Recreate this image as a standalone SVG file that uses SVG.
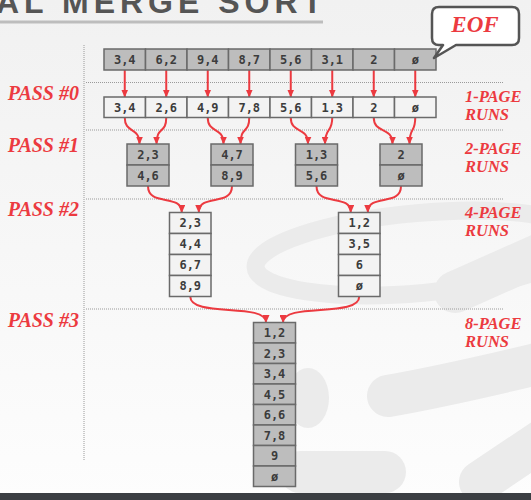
<svg xmlns="http://www.w3.org/2000/svg" width="531" height="500" viewBox="0 0 531 500">
<defs>
<linearGradient id="bg" x1="0" y1="0" x2="0" y2="1">
<stop offset="0" stop-color="#f1f1f1"/>
<stop offset="1" stop-color="#fdfdfd"/>
</linearGradient>
<marker id="ah" markerUnits="userSpaceOnUse" markerWidth="8" markerHeight="7" refX="7.5" refY="3.5" orient="auto">
<path d="M0,0 L8,3.5 L0,7 Z" fill="#ec3a40"/>
</marker>
<style>
.g{fill:#bdbdbd;stroke:#6a6a6a;stroke-width:1.5}
.l{fill:#f3f3f3;stroke:#6a6a6a;stroke-width:1.5}
.t{font-family:"DejaVu Sans Mono",monospace;font-weight:bold;font-size:12px;fill:#3c3c3c;text-anchor:middle}
.lab{font-family:"Liberation Serif",serif;font-weight:bold;font-style:italic;fill:#ec3a40}
.pass{font-size:20px;text-anchor:end}
.runs{font-size:16.5px}
.dot{stroke:#9a9a9a;stroke-width:1;stroke-dasharray:1 1;fill:none}
.a{fill:none;stroke:#ec3a40;stroke-width:2;marker-end:url(#ah)}
.wm{fill:none;stroke:#ebebeb;stroke-linecap:round}
</style>
</defs>
<rect x="0" y="0" width="531" height="500" fill="url(#bg)"/>
<g id="watermark">
<ellipse cx="420" cy="253" rx="165" ry="40" transform="rotate(-5 420 253)" class="wm" stroke-width="18"/>
<path d="M455,292 Q500,272 545,252" class="wm" stroke-width="42"/>
<path d="M388,396 Q450,385 545,362" class="wm" stroke-width="42"/>
<path d="M480,482 L550,435" class="wm" stroke-width="42"/>
<path d="M300,472 L385,472" class="wm" stroke-width="42"/>
<ellipse cx="308" cy="398" rx="21" ry="30" fill="#ebebeb"/>
</g>
<text x="-4" y="13" font-family="Liberation Sans,sans-serif" font-weight="bold" font-size="32" letter-spacing="5" fill="#555">AL MERGE SORT</text>
<line x1="0" y1="22" x2="323" y2="22" stroke="#bdbdbd" stroke-width="3"/>
<rect x="0" y="493" width="531" height="7" fill="#3b3e42"/>
<g id="guides">
<line x1="84" y1="45" x2="84" y2="460" class="dot"/>
<line x1="86" y1="82.5" x2="503" y2="82.5" class="dot"/>
<line x1="86" y1="130" x2="503" y2="130" class="dot"/>
<line x1="86" y1="199" x2="503" y2="199" class="dot"/>
<line x1="86" y1="309" x2="503" y2="309" class="dot"/>
</g>
<g id="connectors">
<path class="a" d="M124.75,70 V97"/>
<path class="a" d="M166.25,70 V97"/>
<path class="a" d="M207.75,70 V97"/>
<path class="a" d="M249.25,70 V97"/>
<path class="a" d="M290.75,70 V97"/>
<path class="a" d="M332.25,70 V97"/>
<path class="a" d="M373.75,70 V97"/>
<path class="a" d="M415.25,70 V97"/>
<path class="a" d="M124.75,117.5 C124.75,134 139.5,126 139.5,144"/>
<path class="a" d="M166.25,117.5 C166.25,134 156.5,126 156.5,144"/>
<path class="a" d="M207.75,117.5 C207.75,134 223.5,126 223.5,144"/>
<path class="a" d="M249.25,117.5 C249.25,134 240.5,126 240.5,144"/>
<path class="a" d="M290.75,117.5 C290.75,134 308,126 308,144"/>
<path class="a" d="M332.25,117.5 C332.25,134 325,126 325,144"/>
<path class="a" d="M373.75,117.5 C373.75,134 392.5,126 392.5,144"/>
<path class="a" d="M415.25,117.5 C415.25,134 409.5,126 409.5,144"/>
<path class="a" d="M148,186 C148,207 181.75,193 181.75,212.5"/>
<path class="a" d="M232,186 C232,207 198.75,193 198.75,212.5"/>
<path class="a" d="M316.5,186 C316.5,207 350.75,193 350.75,212.5"/>
<path class="a" d="M401,186 C401,207 367.75,193 367.75,212.5"/>
<path class="a" d="M190.25,296.5 C190.25,318 266,302 266,322.5"/>
<path class="a" d="M359.25,296.5 C359.25,318 283,302 283,322.5"/>
</g>
<g id="input-file">
<rect class="g" x="104" y="49" width="41.5" height="21"/><text class="t" x="124.75" y="64">3,4</text>
<rect class="g" x="145.5" y="49" width="41.5" height="21"/><text class="t" x="166.25" y="64">6,2</text>
<rect class="g" x="187" y="49" width="41.5" height="21"/><text class="t" x="207.75" y="64">9,4</text>
<rect class="g" x="228.5" y="49" width="41.5" height="21"/><text class="t" x="249.25" y="64">8,7</text>
<rect class="g" x="270" y="49" width="41.5" height="21"/><text class="t" x="290.75" y="64">5,6</text>
<rect class="g" x="311.5" y="49" width="41.5" height="21"/><text class="t" x="332.25" y="64">3,1</text>
<rect class="g" x="353" y="49" width="41.5" height="21"/><text class="t" x="373.75" y="64">2</text>
<rect class="g" x="394.5" y="49" width="41.5" height="21"/><text class="t" x="415.25" y="64">ø</text>
</g>
<g id="pass0-runs">
<rect class="l" x="104" y="97" width="41.5" height="20.5"/><text class="t" x="124.75" y="111.5">3,4</text>
<rect class="l" x="145.5" y="97" width="41.5" height="20.5"/><text class="t" x="166.25" y="111.5">2,6</text>
<rect class="l" x="187" y="97" width="41.5" height="20.5"/><text class="t" x="207.75" y="111.5">4,9</text>
<rect class="l" x="228.5" y="97" width="41.5" height="20.5"/><text class="t" x="249.25" y="111.5">7,8</text>
<rect class="l" x="270" y="97" width="41.5" height="20.5"/><text class="t" x="290.75" y="111.5">5,6</text>
<rect class="l" x="311.5" y="97" width="41.5" height="20.5"/><text class="t" x="332.25" y="111.5">1,3</text>
<rect class="l" x="353" y="97" width="41.5" height="20.5"/><text class="t" x="373.75" y="111.5">2</text>
<rect class="l" x="394.5" y="97" width="41.5" height="20.5"/><text class="t" x="415.25" y="111.5">ø</text>
</g>
<g id="pass1-run1">
<rect class="g" x="127" y="144" width="42" height="21"/><text class="t" x="148" y="158.5">2,3</text>
<rect class="g" x="127" y="165" width="42" height="21"/><text class="t" x="148" y="179.5">4,6</text>
</g>
<g id="pass1-run2">
<rect class="g" x="211" y="144" width="42" height="21"/><text class="t" x="232" y="158.5">4,7</text>
<rect class="g" x="211" y="165" width="42" height="21"/><text class="t" x="232" y="179.5">8,9</text>
</g>
<g id="pass1-run3">
<rect class="g" x="295.5" y="144" width="42" height="21"/><text class="t" x="316.5" y="158.5">1,3</text>
<rect class="g" x="295.5" y="165" width="42" height="21"/><text class="t" x="316.5" y="179.5">5,6</text>
</g>
<g id="pass1-run4">
<rect class="g" x="380" y="144" width="42" height="21"/><text class="t" x="401" y="158.5">2</text>
<rect class="g" x="380" y="165" width="42" height="21"/><text class="t" x="401" y="179.5">ø</text>
</g>
<g id="pass2-run1">
<rect class="l" x="169.5" y="212.5" width="41.5" height="21"/><text class="t" x="190.25" y="227">2,3</text>
<rect class="l" x="169.5" y="233.5" width="41.5" height="21"/><text class="t" x="190.25" y="248">4,4</text>
<rect class="l" x="169.5" y="254.5" width="41.5" height="21"/><text class="t" x="190.25" y="269">6,7</text>
<rect class="l" x="169.5" y="275.5" width="41.5" height="21"/><text class="t" x="190.25" y="290">8,9</text>
</g>
<g id="pass2-run2">
<rect class="l" x="338.5" y="212.5" width="41.5" height="21"/><text class="t" x="359.25" y="227">1,2</text>
<rect class="l" x="338.5" y="233.5" width="41.5" height="21"/><text class="t" x="359.25" y="248">3,5</text>
<rect class="l" x="338.5" y="254.5" width="41.5" height="21"/><text class="t" x="359.25" y="269">6</text>
<rect class="l" x="338.5" y="275.5" width="41.5" height="21"/><text class="t" x="359.25" y="290">ø</text>
</g>
<g id="pass3-run">
<rect class="g" x="253.5" y="322.5" width="42" height="20.5"/><text class="t" x="274.5" y="337">1,2</text>
<rect class="g" x="253.5" y="343" width="42" height="20.5"/><text class="t" x="274.5" y="357.5">2,3</text>
<rect class="g" x="253.5" y="363.5" width="42" height="20.5"/><text class="t" x="274.5" y="378">3,4</text>
<rect class="g" x="253.5" y="384" width="42" height="20.5"/><text class="t" x="274.5" y="398.5">4,5</text>
<rect class="g" x="253.5" y="404.5" width="42" height="20.5"/><text class="t" x="274.5" y="419">6,6</text>
<rect class="g" x="253.5" y="425" width="42" height="20.5"/><text class="t" x="274.5" y="439.5">7,8</text>
<rect class="g" x="253.5" y="445.5" width="42" height="20.5"/><text class="t" x="274.5" y="460">9</text>
<rect class="g" x="253.5" y="466" width="42" height="20.5"/><text class="t" x="274.5" y="480.5">ø</text>
</g>
<g id="eof-callout">
<path d="M439,7 H512 Q519,7 519,14 V38 Q519,45 512,45 H456 L434,58 L443,45 H439 Q432,45 432,38 V14 Q432,7 439,7 Z" fill="#ffffff" stroke="#555" stroke-width="2.5" stroke-linejoin="round"/>
<text class="lab" x="475" y="32" font-size="23" text-anchor="middle">EOF</text>
</g>
<g id="pass-labels">
<text class="lab pass" x="79" y="100">PASS #0</text>
<text class="lab pass" x="79" y="152">PASS #1</text>
<text class="lab pass" x="79" y="216">PASS #2</text>
<text class="lab pass" x="79" y="327">PASS #3</text>
</g>
<g id="run-labels">
<text class="lab runs" x="465" y="102">1-PAGE</text>
<text class="lab runs" x="465" y="120">RUNS</text>
<text class="lab runs" x="465" y="154">2-PAGE</text>
<text class="lab runs" x="465" y="172">RUNS</text>
<text class="lab runs" x="465" y="218">4-PAGE</text>
<text class="lab runs" x="465" y="236">RUNS</text>
<text class="lab runs" x="465" y="329">8-PAGE</text>
<text class="lab runs" x="465" y="347">RUNS</text>
</g>
</svg>
